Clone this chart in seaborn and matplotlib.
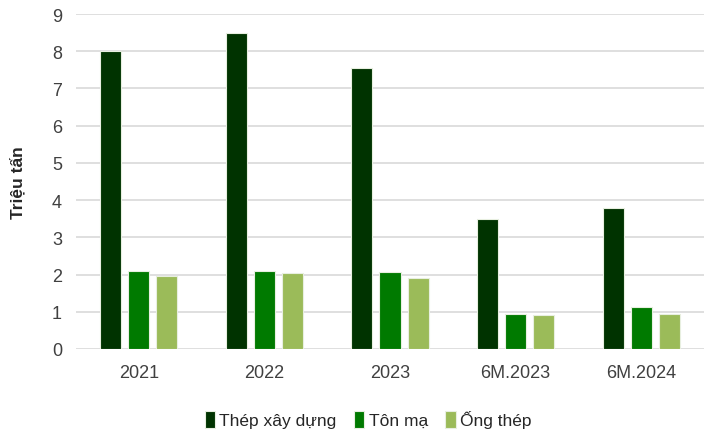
import matplotlib
matplotlib.use("Agg")
import matplotlib.pyplot as plt
import seaborn as sns
import pandas as pd

categories = ["2021", "2022", "2023", "6M.2023", "6M.2024"]
series_names = ["Thép xây dựng", "Tôn mạ", "Ống thép"]
thep_xay_dung = [8.0, 8.5, 7.55, 3.5, 3.8]
ton_ma = [2.1, 2.1, 2.08, 0.93, 1.14]
ong_thep = [1.97, 2.03, 1.91, 0.91, 0.93]
y_ticks = [0, 1, 2, 3, 4, 5, 6, 7, 8, 9]
colors = ["#003300", "#007A00", "#9BBB59"]

rows = []
for name, vals in zip(series_names, [thep_xay_dung, ton_ma, ong_thep]):
    for c, v in zip(categories, vals):
        rows.append({"cat": c, "series": name, "value": v})
df = pd.DataFrame(rows)

sns.set_theme(style="white")
plt.rcParams["font.family"] = ["Liberation Sans", "DejaVu Sans"]

fig = plt.figure(figsize=(7.09, 4.39), dpi=100)
ax = fig.add_axes([76/709, 1-350/439, 628/709, 335/439])
sns.barplot(data=df, x="cat", y="value", hue="series", order=categories,
            hue_order=series_names, palette=colors, saturation=1,
            width=0.67, gap=0.25,
            edgecolor="#e8efe0", linewidth=0.8, ax=ax, zorder=3)
ax.set_ylim(0, 9)
ax.set_yticks(y_ticks)
ax.set_xlim(-0.5, len(categories) - 0.5)
ax.yaxis.grid(True, color="#d9d9d9", linewidth=1.2, zorder=0)
ax.set_axisbelow(True)
for s in ax.spines.values():
    s.set_visible(False)
ax.tick_params(axis="both", length=0, labelsize=13, colors="#404040", pad=10)
ax.tick_params(axis="x", pad=11)
ax.set_xlabel("")
ax.set_ylabel("Triệu tấn", fontsize=12.5, fontweight="bold", color="#262626")
ax.yaxis.set_label_coords(-0.08, 0.5)
ax.legend(loc="center", bbox_to_anchor=(0.465, -0.21), ncol=3, frameon=False,
          fontsize=12.5, handlelength=0.6, handleheight=1.1, handletextpad=0.25,
          columnspacing=1.0, labelcolor="#262626")
fig.savefig("out.png", dpi=100)
